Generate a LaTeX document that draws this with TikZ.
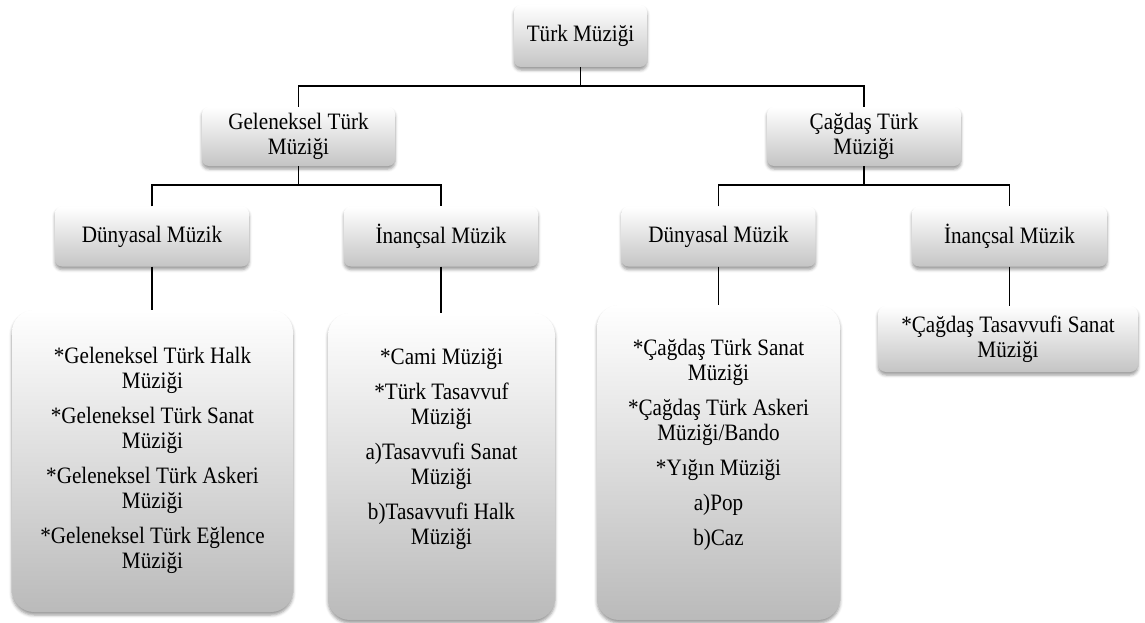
\documentclass[tikz,border=0pt]{standalone}
\usepackage{fontspec}
\setmainfont{Liberation Serif}[FakeStretch=0.9]
\usetikzlibrary{shadows.blur}
\begin{document}
\begin{tikzpicture}[x=1pt,y=-1pt,
  box/.style={rounded corners=7pt, top color=white, bottom color=black!23,
    blur shadow={shadow xshift=0pt, shadow yshift=-3pt, shadow blur radius=3pt, shadow opacity=40},
    inner sep=0pt, font=\fontsize{23.5}{25}\selectfont, align=center},
  bigbox/.style={box, rounded corners=22pt, bottom color=black!27},
  txt/.style={font=\fontsize{23.5}{25}\selectfont, align=center, inner sep=0pt},
  conn/.style={line width=1.8pt, black}]
\useasboundingbox (0,0) rectangle (1145,623);

% level 0
\node[box, minimum width=133pt, minimum height=62pt] (top) at (580.5,36) {Türk Müziği};
% level 1
\node[box, minimum width=193pt, minimum height=59pt] (gel) at (298.5,136.5) {Geleneksel Türk\\Müziği};
\node[box, minimum width=194pt, minimum height=59pt] (cag) at (864,136.5) {Çağdaş Türk\\Müziği};
% level 2
\node[box, minimum width=194pt, minimum height=60pt] (d1) at (152,236.5) {Dünyasal Müzik};
\node[box, minimum width=194pt, minimum height=60pt] (i1) at (441,236.5) {İnançsal Müzik};
\node[box, minimum width=194pt, minimum height=60pt] (d2) at (718.5,236.5) {Dünyasal Müzik};
\node[box, minimum width=195pt, minimum height=60pt] (i2) at (1009.5,236.5) {İnançsal Müzik};
% level 3
\node[bigbox, minimum width=281pt, minimum height=302pt] (b1) at (152.5,461) {};
\node[bigbox, minimum width=227pt, minimum height=307pt] (b2) at (441.5,466.5) {};
\node[bigbox, minimum width=243pt, minimum height=315pt] (b3) at (718.5,462.5) {};
\node[box, rounded corners=8pt, minimum width=260pt, minimum height=66pt] (b4) at (1008,339) {*Çağdaş Tasavvufi Sanat\\Müziği};

\node[txt] (t1) at (152.5,460) {*Geleneksel Türk Halk\\Müziği\\[10pt]*Geleneksel Türk Sanat\\Müziği\\[10pt]*Geleneksel Türk Askeri\\Müziği\\[10pt]*Geleneksel Türk Eğlence\\Müziği};
\node[txt] (t2) at (441.5,449) {*Cami Müziği\\[10pt]*Türk Tasavvuf\\Müziği\\[10pt]a)Tasavvufi Sanat\\Müziği\\[10pt]b)Tasavvufi Halk\\Müziği};
\node[txt] (t3) at (718.5,445) {*Çağdaş Türk Sanat\\Müziği\\[10pt]*Çağdaş Türk Askeri\\Müziği/Bando\\[10pt]*Yığın Müziği\\[10pt]a)Pop\\[10pt]b)Caz};

% connectors
\coordinate (j0) at (580.5,86);
\draw[conn] (top.south) -- (j0);
\draw[conn] (gel.north) |- (j0) -| (cag.north);
\coordinate (j1) at (298.5,185);
\draw[conn] (gel.south) -- (j1);
\draw[conn] (d1.north) |- (j1) -| (i1.north);
\coordinate (j2) at (864,185);
\draw[conn] (cag.south) -- (j2);
\draw[conn] (d2.north) |- (j2) -| (i2.north);
\draw[conn] (d1.south) -- (d1.south |- b1.north);
\draw[conn] (i1.south) -- (i1.south |- b2.north);
\draw[conn] (d2.south) -- (d2.south |- b3.north);
\draw[conn] (i2.south) -- (i2.south |- b4.north);
\end{tikzpicture}
\end{document}
